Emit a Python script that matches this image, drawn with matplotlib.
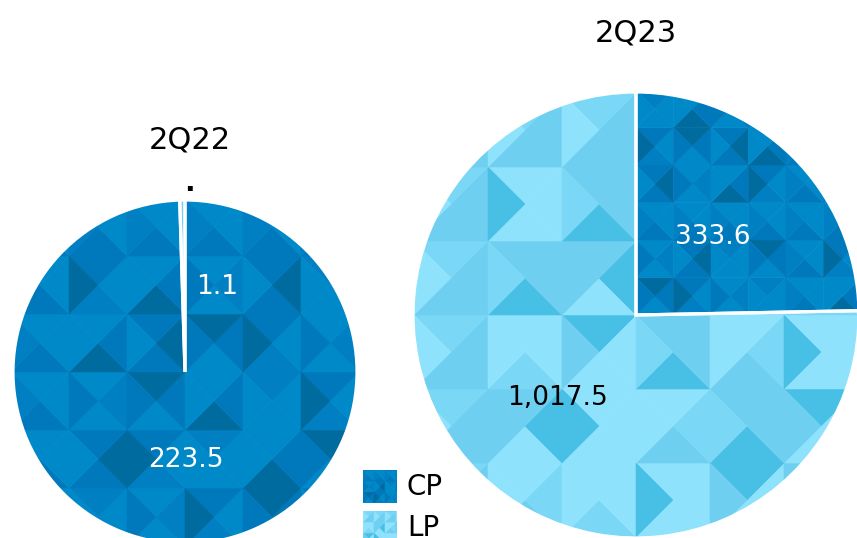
import numpy as np
import matplotlib
matplotlib.use('Agg')
import matplotlib.pyplot as plt
from matplotlib.collections import PolyCollection
from matplotlib.patches import Rectangle

# data
quarters = ['2Q22', '2Q23']
series = ['CP', 'LP']
cp_values = [223.5, 333.6]
lp_values = [1.1, 1017.5]

# layout in pixels (image coords, y down)
W, H = 857, 538
centers = [(185, 372), (636, 315)]
radii = [172, 223]
title_pos = [(190, 140), (636, 33)]
cp_label_pos = [(186, 460), (713, 237)]
lp_label_pos = [(217, 287), (558, 398)]
cp_cell = [58, 37.5]
lp_cell = [58, 74]

cp_shades = ['#0089c9', '#0089c9', '#0078bc', '#0089c9', '#006b9f', '#0080c2', '#0078bc']
lp_shades = ['#8fe2fb', '#6fcff1', '#8fe2fb', '#7ad7f5', '#48c0e6', '#8fe2fb', '#6fcff1']


def fy(y):
    return H - y


def texture(ax, clip, x0, y0, cell, shades, ext):
    # triangle mosaic clipped to a patch
    polys, cols = [], []
    i0 = int(np.floor((ext[0] - x0) / cell)) - 1
    i1 = int(np.ceil((ext[1] - x0) / cell)) + 1
    j0 = int(np.floor((ext[2] - y0) / cell)) - 1
    j1 = int(np.ceil((ext[3] - y0) / cell)) + 1
    for i in range(i0, i1):
        for j in range(j0, j1):
            xa, ya = x0 + i * cell, y0 + j * cell
            xc, yc = xa + cell / 2, ya + cell / 2
            c = [(xa, ya), (xa + cell, ya), (xa + cell, ya + cell), (xa, ya + cell)]
            for k in range(4):
                polys.append([c[k], c[(k + 1) % 4], (xc, yc)])
                cols.append(shades[(5 * i + 3 * j + 2 * k + i * j) % len(shades)])
    pc = PolyCollection(polys, facecolors=cols, edgecolors=cols, linewidths=0.4, zorder=2)
    ax.add_collection(pc)
    pc.set_clip_path(clip)


fig = plt.figure(figsize=(W / 100, H / 100), dpi=100)
ax = fig.add_axes([0, 0, 1, 1])

for q in range(len(quarters)):
    cx, cy = centers[q][0], fy(centers[q][1])
    r = radii[q]
    wedges, _ = ax.pie([cp_values[q], lp_values[q]], startangle=90, counterclock=False,
                       center=(cx, cy), radius=r,
                       wedgeprops=dict(edgecolor='white', linewidth=2.3))
    ext = (cx - r, cx + r, cy - r, cy + r)
    for w, shades, cell in zip(wedges, [cp_shades, lp_shades], [cp_cell[q], lp_cell[q]]):
        w.set_facecolor('none')
        w.set_zorder(3)
        texture(ax, w, cx, cy, cell, shades, ext)

    ax.text(title_pos[q][0], fy(title_pos[q][1]), quarters[q], fontsize=22,
            ha='center', va='center')
    ax.text(cp_label_pos[q][0], fy(cp_label_pos[q][1]), f'{cp_values[q]:,.1f}',
            fontsize=19, color='white', ha='center', va='center', zorder=5)
    lcol = 'white' if q == 0 else 'black'
    ax.text(lp_label_pos[q][0], fy(lp_label_pos[q][1]), f'{lp_values[q]:,.1f}',
            fontsize=19, color=lcol, ha='center', va='center', zorder=5)

# small dot above the first pie
ax.text(189, fy(183), '.', fontsize=20, fontweight='bold', ha='center', va='center')

# legend
for k, (name, shades) in enumerate(zip(series, [cp_shades, lp_shades])):
    x0, y0 = 363, fy(470 + 41 * k + 33)
    sq = Rectangle((x0, y0), 34, 33, facecolor='none', edgecolor='none', zorder=3)
    ax.add_patch(sq)
    texture(ax, sq, x0, y0, 11, shades, (x0, x0 + 34, y0, y0 + 33))
    ax.text(407, y0 + 16, name, fontsize=20, ha='left', va='center')

ax.set_xlim(0, W)
ax.set_ylim(0, H)
ax.set_aspect('auto')
ax.axis('off')

fig.savefig('out.png', dpi=100)
